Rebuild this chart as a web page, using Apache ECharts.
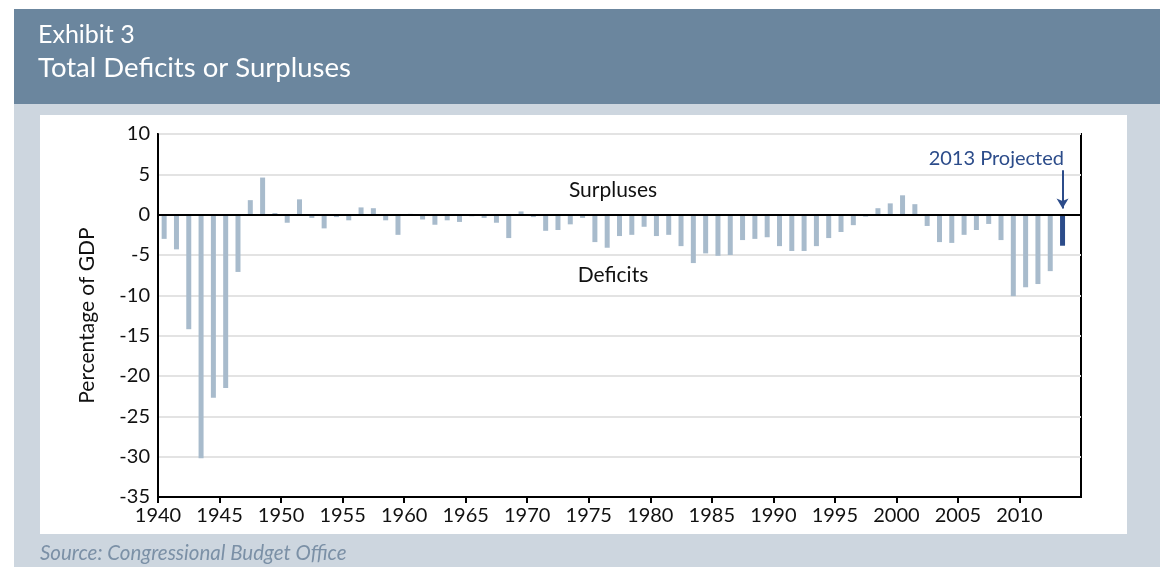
<!DOCTYPE html>
<html>
<head>
<meta charset="utf-8">
<title>Total Deficits or Surpluses</title>
<script src="https://cdn.jsdelivr.net/npm/echarts@6/dist/echarts.min.js"></script>
<style>
  html, body { margin: 0; padding: 0; background: #fff; }
  #deficits_chart { width: 1160px; height: 567px; }
</style>
</head>
<body>
<div id="deficits_chart"></div>
<script>
  var years = [];
  for (var y = 1940; y <= 2013; y++) years.push(y);
  var values = [
    -3.0, -4.3, -14.2, -30.2, -22.7, -21.5, -7.1, 1.8, 4.6, 0.2,   // 1940s
    -1.0, 1.9, -0.4, -1.7, -0.3, -0.7, 0.9, 0.8, -0.7, -2.5,       // 1950s
    0.1, -0.6, -1.25, -0.7, -0.9, -0.2, -0.4, -1.0, -2.9, 0.4,     // 1960s
    -0.3, -2.0, -1.9, -1.2, -0.4, -3.4, -4.1, -2.65, -2.5, -1.5,   // 1970s
    -2.65, -2.5, -3.9, -6.0, -4.8, -5.1, -5.0, -3.15, -3.0, -2.8,  // 1980s
    -3.9, -4.5, -4.5, -3.9, -2.9, -2.15, -1.3, -0.25, 0.8, 1.4,    // 1990s
    2.4, 1.3, -1.4, -3.4, -3.5, -2.5, -1.9, -1.15, -3.15, -10.1,   // 2000s
    -9.0, -8.6, -7.0, -3.85                                        // 2010-2013
  ];
  var projectedYear = 2013;
  var yTicks = { min: -35, max: 10, interval: 5 };
  var xTicks = { min: 1940, max: 2015, interval: 5 };

  var barColor = '#a8bbcc';
  var projColor = '#2c4c8a';
  var font = 'Lato';

  var chart = echarts.init(document.getElementById('deficits_chart'));

  // each bar sits in the middle of its year
  var barData = years.map(function (yr, i) {
    var item = { value: [yr + 0.5, values[i]] };
    if (yr === projectedYear) item.itemStyle = { color: projColor };
    return item;
  });

  var option = {
    animation: false,
    backgroundColor: '#ffffff',
    textStyle: { fontFamily: font, color: '#111' },
    graphic: [
      { type: 'rect', z: -10, shape: { x: 14, y: 9, width: 1146, height: 95 }, style: { fill: '#6b869e' } },
      { type: 'rect', z: -10, shape: { x: 14, y: 104, width: 1146, height: 463 }, style: { fill: '#cdd6df' } },
      { type: 'rect', z: -9, shape: { x: 40, y: 115, width: 1087, height: 419 }, style: { fill: '#ffffff' } },
      { type: 'text', left: 38, top: 22, style: { text: 'Exhibit 3', fill: '#fff', font: '25px Lato' } },
      { type: 'text', left: 38, top: 54, style: { text: 'Total Deficits or Surpluses', fill: '#fff', font: '27.5px Lato' } },
      { type: 'text', left: 40, top: 543, style: { text: 'Source: Congressional Budget Office', fill: '#7b90a6', font: 'italic 20.5px Lato' } },
      { type: 'text', x: 613, y: 190, style: { text: 'Surpluses', fill: '#111', font: '21px Lato', align: 'center', verticalAlign: 'middle' } },
      { type: 'text', x: 613, y: 275, style: { text: 'Deficits', fill: '#111', font: '21px Lato', align: 'center', verticalAlign: 'middle' } },
      { type: 'text', x: 1064, y: 159, style: { text: '2013 Projected', fill: projColor, font: '20px Lato', align: 'right', verticalAlign: 'middle' } }
    ],
    grid: {
      left: 158, right: 79, top: 134, bottom: 70,
      show: true, borderColor: '#000', borderWidth: 2, backgroundColor: 'transparent'
    },
    xAxis: {
      type: 'value',
      min: xTicks.min, max: xTicks.max, interval: xTicks.interval,
      axisLine: { onZero: false, lineStyle: { color: '#000', width: 2 } },
      axisTick: { show: true, length: 6, lineStyle: { color: '#000', width: 2 } },
      axisLabel: {
        showMaxLabel: false, color: '#111', fontSize: 20, margin: 9, fontFamily: font,
        formatter: function (v) { return String(v); }
      },
      splitLine: { show: false }
    },
    yAxis: {
      type: 'value',
      min: yTicks.min, max: yTicks.max, interval: yTicks.interval,
      name: 'Percentage of GDP',
      nameLocation: 'middle',
      nameGap: 60,
      nameTextStyle: { fontSize: 21, color: '#111', fontFamily: font },
      axisLine: { show: true, lineStyle: { color: '#000', width: 2 } },
      axisTick: { show: false },
      axisLabel: { color: '#111', fontSize: 20, margin: 8, fontFamily: font },
      splitLine: { lineStyle: { color: '#e3e3e3', width: 2 } }
    },
    series: [
      {
        name: 'Deficit or surplus',
        type: 'bar',
        barWidth: 5,
        itemStyle: { color: barColor },
        data: barData,
        markLine: {
          silent: true,
          symbol: 'none',
          label: { show: false },
          lineStyle: { color: '#000', width: 2, type: 'solid' },
          data: [
            { yAxis: 0 },
            [
              { coord: [projectedYear + 0.5, 5.5], symbol: 'none' },
              { coord: [projectedYear + 0.5, 0.75], symbol: 'arrow', symbolSize: [9, 10],
                lineStyle: { color: projColor, width: 2 } }
            ]
          ]
        }
      }
    ]
  };
  chart.setOption(option);
</script>
</body>
</html>
